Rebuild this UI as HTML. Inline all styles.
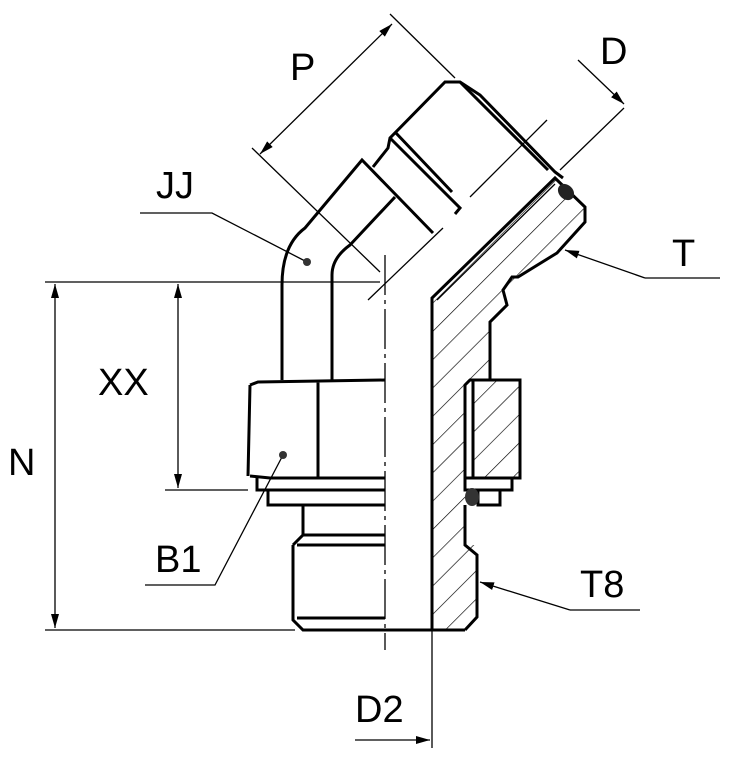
<!DOCTYPE html>
<html><head><meta charset="utf-8"><style>
html,body{margin:0;padding:0;background:#fff;width:736px;height:775px;overflow:hidden}
text{font-family:"Liberation Sans",sans-serif;font-size:38px;fill:#000}
</style></head><body>
<svg width="736" height="775" viewBox="0 0 736 775" xmlns="http://www.w3.org/2000/svg">
<defs>
<pattern id="h" width="20" height="20" patternUnits="userSpaceOnUse" patternTransform="rotate(45)">
<line x1="0" y1="0" x2="0" y2="20" stroke="#000" stroke-width="1.3"/>
</pattern>
<marker id="a" markerWidth="14" markerHeight="8" refX="14" refY="4" orient="auto" markerUnits="userSpaceOnUse">
<path d="M0,0 L14,4 L0,8 z" fill="#000"/></marker>
</defs>
<g fill="none" stroke="#000" stroke-width="1.3">
<line x1="45" y1="282" x2="380" y2="282"/>
<line x1="45" y1="630" x2="295" y2="630"/>
<line x1="55" y1="470" x2="55" y2="284" marker-end="url(#a)"/>
<line x1="55" y1="470" x2="55" y2="628" marker-end="url(#a)"/>
<line x1="165" y1="490" x2="248" y2="490"/>
<line x1="178" y1="380" x2="178" y2="284" marker-end="url(#a)"/>
<line x1="178" y1="380" x2="178" y2="488" marker-end="url(#a)"/>
<line x1="252" y1="148" x2="380" y2="272"/>
<line x1="390" y1="14" x2="455" y2="78"/>
<line x1="325" y1="90" x2="260" y2="154" marker-end="url(#a)"/>
<line x1="325" y1="90" x2="392" y2="24" marker-end="url(#a)"/>
<line x1="578" y1="60" x2="624" y2="104" marker-end="url(#a)"/>
<line x1="624" y1="108" x2="560" y2="170"/>
<line x1="547" y1="120" x2="470" y2="197"/>
<line x1="443" y1="228" x2="368" y2="300"/>
<line x1="432" y1="630" x2="432" y2="748"/>
<line x1="355" y1="740" x2="430" y2="740" marker-end="url(#a)"/>
<line x1="385" y1="255" x2="385" y2="650" stroke-dasharray="40,5,4,5"/>
<polyline points="140,213 212,213 307,262"/>
<polyline points="720,278 645,278"/>
<line x1="645" y1="278" x2="565" y2="250" marker-end="url(#a)"/>
<polyline points="145,585 215,585 283,455"/>
<polyline points="640,610 570,610"/>
<line x1="570" y1="610" x2="480" y2="582" marker-end="url(#a)"/>
</g>
<circle cx="307" cy="262" r="4" fill="#333"/>
<circle cx="283" cy="455" r="4" fill="#333"/>
<path d="M432,298 L555,178 L585,207 L585,222 L557,253 L518,277 L503,290 L507,305 L490,322 L490,380 L465,380 L465,478 L465,545 L477,545 L477,617 L465,630 L432,630 Z" fill="url(#h)" stroke="none"/>
<path d="M473,380 L520,380 L520,478 L473,478 Z" fill="url(#h)" stroke="none"/>
<g fill="none" stroke="#000" stroke-width="3">
<path d="M282,380 L282,285 Q282,245 305,228 L362,160 L433,233"/>
<path d="M332,380 L332,275 Q332,258 350,245 L395,197"/>
<path d="M373,167 L388,148 L390,138 L445,82 L460,82 L480,95 L555,172 L563,178"/>
<path d="M390,138 L460,208 L455,214"/>
<path d="M395,132 L452,192"/>
<path d="M460,82 L548,170"/>
<path d="M432,630 L432,298 L555,178 L585,207 L585,222 L557,253 L518,277 L512,277 L503,290 L507,305 L490,322 L490,380"/>
<path d="M437,300 L555,184" stroke-width="1.3"/>
<path d="M250,385 L248,476 M385,380 L258,382 L250,385 M250,476 L270,478 L385,478 M318,382 L318,478"/>
<path d="M257,478 L257,490 L385,490 M268,490 L268,505 L385,505"/>
<path d="M303,505 L303,535 M293,545 L293,620 L303,630 L465,630 M293,545 L303,535 L385,535 M297,545 L385,545 M297,618 L385,618"/>
<path d="M465,385 L470,380 L520,380 L520,478 L465,478 Z"/>
<path d="M473,380 L473,478"/>
<path d="M465,478 L465,490 L512,490 L512,478 M478,490 L478,505 L500,505 L500,490"/>
<path d="M465,505 L465,545 L477,555 L477,617 L465,630"/>
</g>
<ellipse cx="566" cy="192" rx="9" ry="7" fill="#222" transform="rotate(45 566 192)"/>
<ellipse cx="472" cy="497" rx="7" ry="9" fill="#333"/>
<text x="290" y="80">P</text>
<text x="600" y="64">D</text>
<text x="156" y="198">JJ</text>
<text x="672" y="266">T</text>
<text x="98" y="395">XX</text>
<text x="8" y="475">N</text>
<text x="155" y="572">B1</text>
<text x="580" y="597">T8</text>
<text x="355" y="722">D2</text>
</svg>
</body></html>
